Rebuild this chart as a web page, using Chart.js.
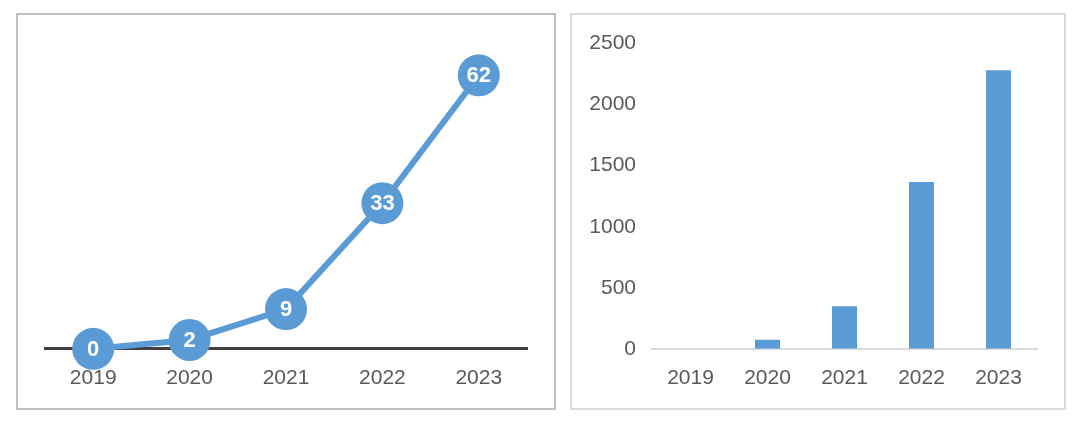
<!DOCTYPE html>
<html lang="en">
<head>
  <meta charset="UTF-8" />
  <title>Yearly counts</title>
  <script src="https://cdn.jsdelivr.net/npm/chart.js"></script>
  <style>
    body {
      margin: 0;
      padding: 0;
      background: #fff;
      font-family: "Liberation Sans", Arial, sans-serif;
    }

    /* two boxed panels side by side */
    .panel {
      position: absolute;
      top: 13px;
      height: 393px;
      box-sizing: content-box;
    }
    #leftPanel {
      left: 16px;
      width: 536px;
      border: 2px solid #c0c0c0;
    }
    #rightPanel {
      left: 570px;
      width: 492px;
      border: 2px solid #d9d9d9;
    }
    canvas {
      display: block;
    }
  </style>
</head>
<body>
  <div class="panel" id="leftPanel"><canvas id="lineChart"></canvas></div>
  <div class="panel" id="rightPanel"><canvas id="barChart"></canvas></div>

  <script>
    // Data
    const years = ['2019', '2020', '2021', '2022', '2023'];
    const lineValues = [0, 2, 9, 33, 62];
    const barValues = [0, 75, 348, 1367, 2282];
    const barTicks = [0, 500, 1000, 1500, 2000, 2500];

    const blue = '#5b9bd5';
    const labelGrey = '#595959';
    const fontFamily = '"Liberation Sans", Arial, sans-serif';

    // Draw the value inside each point (no datalabels plugin available)
    const pointLabels = {
      id: 'pointLabels',
      afterDatasetsDraw(chart) {
        const ctx = chart.ctx;
        const meta = chart.getDatasetMeta(0);
        ctx.save();
        ctx.font = 'bold 22px ' + fontFamily;
        ctx.fillStyle = '#fff';
        ctx.textAlign = 'center';
        ctx.textBaseline = 'middle';
        meta.data.forEach((pt, i) => {
          ctx.fillText(String(chart.data.datasets[0].data[i]), pt.x, pt.y + 1);
        });
        ctx.restore();
      }
    };

    new Chart(document.getElementById('lineChart'), {
      type: 'line',
      data: {
        labels: years,
        datasets: [{
          data: lineValues,
          borderColor: blue,
          backgroundColor: blue,
          borderWidth: 6,
          pointRadius: 21,
          pointHoverRadius: 21,
          pointBorderWidth: 0,
          clip: false
        }]
      },
      options: {
        responsive: true,
        maintainAspectRatio: false,
        animation: false,
        layout: { padding: { left: 27, right: 27, top: 25, bottom: 0 } },
        plugins: { legend: { display: false }, tooltip: { enabled: false } },
        scales: {
          x: {
            offset: true,
            grid: { display: false, drawTicks: false },
            border: { display: true, color: '#404040', width: 3 },
            ticks: {
              color: labelGrey,
              padding: 17,
              font: { family: fontFamily, size: 21 }
            }
          },
          y: {
            display: false,
            min: 0,
            max: 70
          }
        }
      },
      plugins: [pointLabels]
    });

    new Chart(document.getElementById('barChart'), {
      type: 'bar',
      data: {
        labels: years,
        datasets: [{
          data: barValues,
          backgroundColor: blue,
          categoryPercentage: 1,
          barPercentage: 0.325
        }]
      },
      options: {
        responsive: true,
        maintainAspectRatio: false,
        animation: false,
        layout: { padding: { left: 0, right: 27, top: 23, bottom: 0 } },
        plugins: { legend: { display: false }, tooltip: { enabled: false } },
        scales: {
          x: {
            grid: { display: false, drawTicks: false },
            border: { display: true, color: '#d9d9d9', width: 2 },
            ticks: {
              color: labelGrey,
              padding: 17,
              font: { family: fontFamily, size: 21 }
            }
          },
          y: {
            min: barTicks[0],
            max: barTicks[barTicks.length - 1],
            afterBuildTicks: (axis) => {
              axis.ticks = barTicks.map(v => ({ value: v }));
            },
            afterFit: (axis) => { axis.width = 80; },
            grid: { display: false, drawTicks: false },
            border: { display: false },
            ticks: {
              color: labelGrey,
              padding: 16,
              callback: (v) => String(v),
              font: { family: fontFamily, size: 21 }
            }
          }
        }
      }
    });
  </script>
</body>
</html>
